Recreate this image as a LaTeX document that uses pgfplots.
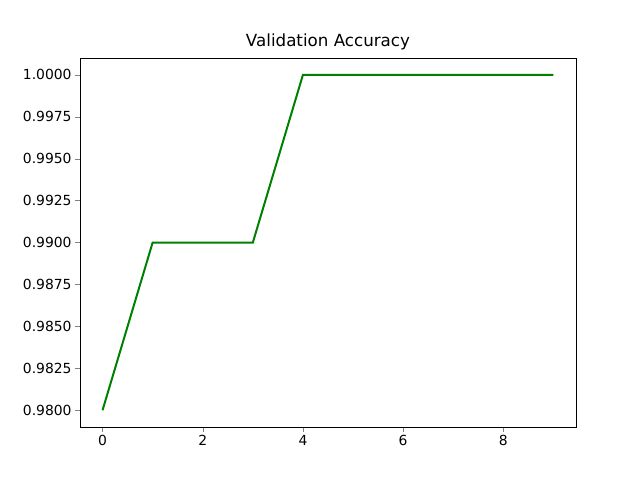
\documentclass[border=0pt]{standalone}
\usepackage{pgfplots}
\pgfplotsset{compat=1.18}
\usepackage{fontspec}
\setmainfont{DejaVu Sans}
\begin{document}
\begin{tikzpicture}[x=1pt,y=1pt]
\useasboundingbox (0,0) rectangle (640,480);
\begin{axis}[at={(80pt,53pt)},anchor=south west,scale only axis,width=496pt,height=369pt,
 xmin=-0.45,xmax=9.45,ymin=0.979,ymax=1.001,
 xtick={0,2,4,6,8},ytick={0.98,0.9825,0.985,0.9875,0.99,0.9925,0.995,0.9975,1.0},
 yticklabel style={/pgf/number format/.cd,fixed,fixed zerofill,precision=4},
 /pgf/number format/assume math mode=true,
 tick label style={font=\fontsize{13.9}{16}\selectfont},
 tick align=outside,tick pos=left,major tick length=4.9pt,
 title={\fontsize{16.7}{20}\selectfont Validation Accuracy},title style={yshift=-2pt}]
\addplot[color={rgb,255:red,0;green,128;blue,0},line width=2pt] coordinates {(0,0.98)(1,0.99)(2,0.99)(3,0.99)(4,1.0)(5,1.0)(6,1.0)(7,1.0)(8,1.0)(9,1.0)};
\end{axis}
\end{tikzpicture}
\end{document}
